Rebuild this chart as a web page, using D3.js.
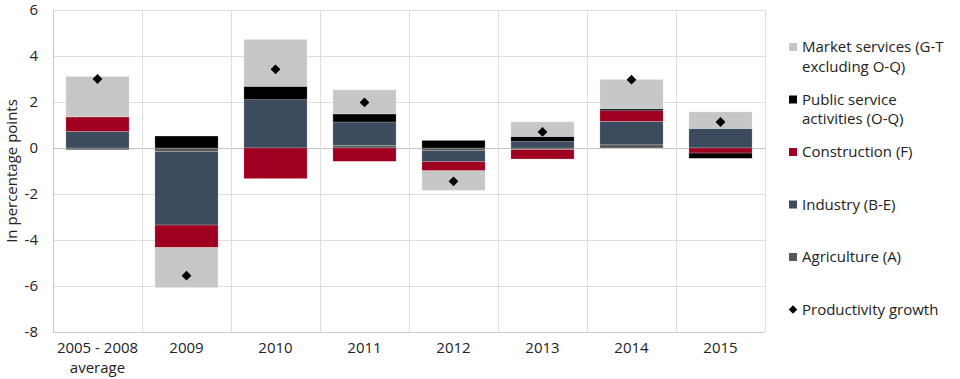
<!DOCTYPE html>
<html>
<head>
<meta charset="utf-8">
<script src="https://cdn.jsdelivr.net/npm/d3@7"></script>
<style>
  body { margin: 0; background: #fff; }
  text { font-family: "Open Sans", sans-serif; fill: #222; }
</style>
</head>
<body>
<div id="chart"></div>
<script>
// categories and sector contributions (percentage points)
const years = ["2005 - 2008 average", "2009", "2010", "2011", "2012", "2013", "2014", "2015"]
const agriculture = [-0.08, -0.15, 0.0, 0.11, -0.1, -0.07, 0.14, 0.0]
const industry = [0.72, -3.2, 2.1, 1.02, -0.5, 0.28, 1.02, 0.85]
const construction = [0.63, -0.98, -1.33, -0.58, -0.39, -0.41, 0.46, -0.22]
const publicServices = [0.0, 0.52, 0.58, 0.35, 0.33, 0.22, 0.08, -0.23]
const marketServices = [1.76, -1.74, 2.04, 1.05, -0.85, 0.64, 1.28, 0.72]
const productivity = [3.0, -5.55, 3.42, 1.98, -1.45, 0.7, 2.97, 1.13]
const yTicks = [-8, -6, -4, -2, 0, 2, 4, 6]

const seriesKeys = ["agr", "ind", "con", "pub", "mkt"]
const colors = { agr: "#585858", ind: "#3d4b5e", con: "#a0001f", pub: "#000000", mkt: "#c7c7c7" }

// rows for d3.stack
const rows = years.map((y, i) => ({
    year: y,
    agr: agriculture[i],
    ind: industry[i],
    con: construction[i],
    pub: publicServices[i],
    mkt: marketServices[i],
    prod: productivity[i]
}))

const margin = { top: 10, right: 195, bottom: 47, left: 53 }
const W = 960, H = 379
const width = W - margin.left - margin.right
const height = H - margin.top - margin.bottom

const svg = d3.select("#chart").append("svg")
    .attr("width", W)
    .attr("height", H)

const g = svg.append("g")
    .attr("transform", `translate(${margin.left},${margin.top})`)

const x = d3.scaleBand()
    .domain(years)
    .range([0, width])
    .paddingInner(0.29)
    .paddingOuter(0.145)

const y = d3.scaleLinear()
    .domain([-8, 6])
    .range([height, 0])

// horizontal gridlines
g.append("g")
    .selectAll("line")
    .data(yTicks)
    .join("line")
    .attr("x1", 0)
    .attr("x2", width)
    .attr("y1", d => Math.round(y(d)) + 0.5)
    .attr("y2", d => Math.round(y(d)) + 0.5)
    .attr("stroke", d => d === 0 ? "#c4c4c4" : "#dedede")
    .attr("stroke-width", 1)

// vertical gridlines between categories
const step = x.step()
g.append("g")
    .selectAll("line")
    .data(d3.range(1, years.length + 1))
    .join("line")
    .attr("x1", d => Math.round(d * step) + 0.5)
    .attr("x2", d => Math.round(d * step) + 0.5)
    .attr("y1", 0)
    .attr("y2", height)
    .attr("stroke", "#dedede")

// left + bottom frame
g.append("line")
    .attr("x1", 0.5).attr("x2", 0.5)
    .attr("y1", 0).attr("y2", height)
    .attr("stroke", "#c8c8c8")
g.append("line")
    .attr("x1", 0).attr("x2", width)
    .attr("y1", height + 0.5).attr("y2", height + 0.5)
    .attr("stroke", "#c8c8c8")

// stacked bars
const stack = d3.stack()
    .keys(seriesKeys)
    .offset(d3.stackOffsetDiverging)

const stacked = stack(rows)

g.append("g")
    .selectAll("g")
    .data(stacked)
    .join("g")
    .attr("fill", d => colors[d.key])
    .selectAll("rect")
    .data(d => d)
    .join("rect")
    .attr("x", d => x(d.data.year))
    .attr("width", x.bandwidth())
    .attr("y", d => y(Math.max(d[0], d[1])))
    .attr("height", d => Math.abs(y(d[0]) - y(d[1])))
    .attr("stroke", "#ffffff")
    .attr("stroke-opacity", 0.35)
    .attr("stroke-width", 0.6)

// productivity growth markers
const diamond = d3.symbol().type(d3.symbolSquare).size(48)
g.append("g")
    .selectAll("path")
    .data(rows)
    .join("path")
    .attr("d", diamond)
    .attr("transform", d => `translate(${x(d.year) + x.bandwidth() / 2},${y(d.prod)}) rotate(45)`)
    .attr("fill", "#000")

// y axis labels
g.append("g")
    .selectAll("text")
    .data(yTicks)
    .join("text")
    .attr("x", -15)
    .attr("y", d => y(d))
    .attr("dy", "0.35em")
    .attr("text-anchor", "end")
    .style("font-size", "15px")
    .text(d => d)

// x axis labels (split "average" onto second line)
const xl = g.append("g")
    .selectAll("text")
    .data(years)
    .join("text")
    .attr("text-anchor", "middle")
    .attr("x", d => x(d) + x.bandwidth() / 2)
    .attr("y", height + 21)
    .style("font-size", "15px")

xl.each(function (d) {
    const t = d3.select(this)
    const parts = d.split(" average")
    t.append("tspan").text(parts[0])
    if (parts.length > 1) {
        t.append("tspan")
            .attr("x", x(d) + x.bandwidth() / 2)
            .attr("dy", 19.5)
            .text("average")
    }
})

// y axis title
svg.append("text")
    .attr("transform", `translate(17,${margin.top + height / 2}) rotate(-90)`)
    .attr("text-anchor", "middle")
    .style("font-size", "15px")
    .text("In percentage points")

// legend
const legendItems = [
    { lines: ["Market services (G-T", "excluding O-Q)"], color: colors.mkt, type: "sq" },
    { lines: ["Public service", "activities (O-Q)"], color: colors.pub, type: "sq" },
    { lines: ["Construction (F)"], color: colors.con, type: "sq" },
    { lines: ["Industry (B-E)"], color: colors.ind, type: "sq" },
    { lines: ["Agriculture (A)"], color: colors.agr, type: "sq" },
    { lines: ["Productivity growth"], color: "#000", type: "dia" }
]

const legend = svg.append("g")
    .attr("transform", "translate(789,0)")

const li = legend.selectAll("g")
    .data(legendItems)
    .join("g")
    .attr("transform", (d, i) => `translate(0,${47 + i * 52.5})`)

li.filter(d => d.type === "sq")
    .append("rect")
    .attr("x", 0)
    .attr("y", -4)
    .attr("width", 8)
    .attr("height", 8)
    .attr("fill", d => d.color)

li.filter(d => d.type === "dia")
    .append("path")
    .attr("d", d3.symbol().type(d3.symbolSquare).size(36))
    .attr("transform", "translate(4,0) rotate(45)")
    .attr("fill", "#000")

li.append("text")
    .attr("x", 13)
    .attr("y", 0)
    .style("font-size", "15px")
    .selectAll("tspan")
    .data(d => d.lines)
    .join("tspan")
    .attr("x", 13)
    .attr("dy", (d, i) => i === 0 ? "0.35em" : 19.5)
    .text(d => d)
</script>
</body>
</html>
